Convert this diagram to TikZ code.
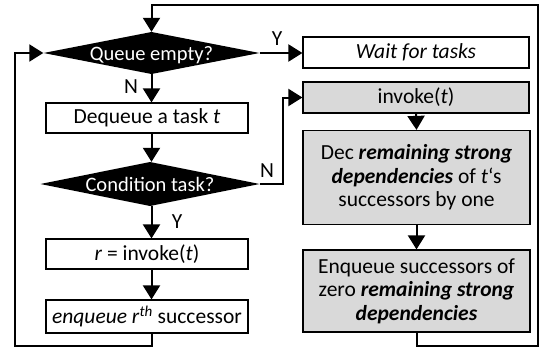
\documentclass[tikz,border=0pt]{standalone}
\usepackage{fontspec}
\setmainfont{Carlito}
\usetikzlibrary{arrows.meta}
\definecolor{boxgray}{RGB}{217,217,217}
\tikzset{
  every node/.style={font=\fontsize{21.5}{23.5}\selectfont},
  decision/.style={rectangle,text=white,inner sep=0pt,font=\fontsize{20.5}{23}\selectfont,
    text height=15.5pt,text depth=0pt,
    path picture={\fill[black] (path picture bounding box.west) -- (path picture bounding box.north) -- (path picture bounding box.east) -- (path picture bounding box.south) -- cycle;}},
  stepbox/.style={rectangle,draw=black,line width=1.2pt,fill=white,inner sep=0pt,align=center},
  graybox/.style={stepbox,fill=boxgray},
  flow/.style={line width=2pt,-{Triangle[length=14pt,width=17pt]}},
  lbl/.style={inner sep=0pt}
}
\begin{document}
\begin{tikzpicture}[x=1pt,y=-1pt]
\useasboundingbox (0,0) rectangle (549,356);
% left column
\node[decision,minimum width=216pt,minimum height=42pt] (q1) at (151.5,53) {Queue empty?};
\node[stepbox,minimum width=202pt,minimum height=30pt] (deq) at (147,118) {Dequeue a task \textit{t}};
\node[decision,minimum width=219pt,minimum height=44pt] (q2) at (150,184) {Condition task?};
\node[stepbox,minimum width=202pt,minimum height=30pt] (rinv) at (147,254) {\textit{r} = invoke(\textit{t})};
\node[stepbox,minimum width=202pt,minimum height=33pt] (enqr) at (147,316.5) {\textit{enqueue r}\textsuperscript{\textit{th}} successor};
% right column
\node[stepbox,minimum width=226pt,minimum height=31pt] (wait) at (416,52.5) {\textit{Wait for tasks}};
\node[graybox,minimum width=226pt,minimum height=31pt] (inv) at (416,97.5) {invoke(\textit{t})};
\node[graybox,minimum width=227pt,minimum height=94pt] (dec) at (416.5,177.5) {Dec \textbf{\textit{remaining strong}}\\\textbf{\textit{dependencies}} of \textit{t}‘s\\successors by one};
\node[graybox,minimum width=227pt,minimum height=82pt] (enq) at (416.5,291) {Enqueue successors of\\zero \textbf{\textit{remaining strong}}\\\textbf{\textit{dependencies}}};
% labels
\node[lbl] (ly1) at (277,38.5) {Y};
\node[lbl] (ln1) at (131,87) {N};
\node[lbl] (ln2) at (267,171) {N};
\node[lbl] (ly2) at (177,222) {Y};
% helper coordinates
\coordinate (tr) at (538,5);
\coordinate (br) at (538,346);
\coordinate (bl) at (15,346);
\coordinate (njog) at (283,184);
% connectors
\draw[flow] (q1.south) -- (q1.south |- deq.north);
\draw[flow] (q1.south |- deq.south) -- (q1.south |- q2.north);
\draw[flow] (q1.south |- q2.south) -- (q1.south |- rinv.north);
\draw[flow] (q1.south |- rinv.south) -- (q1.south |- enqr.north);
\draw[flow] (q1.east) -- (q1.east -| wait.west);
\draw[flow] (q2.east) -- (njog) |- (inv.west);
\draw[flow] (inv.south) -- (dec.north);
\draw[flow] (dec.south) -- (enq.north);
\draw[flow] (enq.south) |- (br) -- (tr) -| (q1.north);
\draw[flow] (q1.south |- enqr.south) |- (bl) |- (q1.west);
\end{tikzpicture}
\end{document}
